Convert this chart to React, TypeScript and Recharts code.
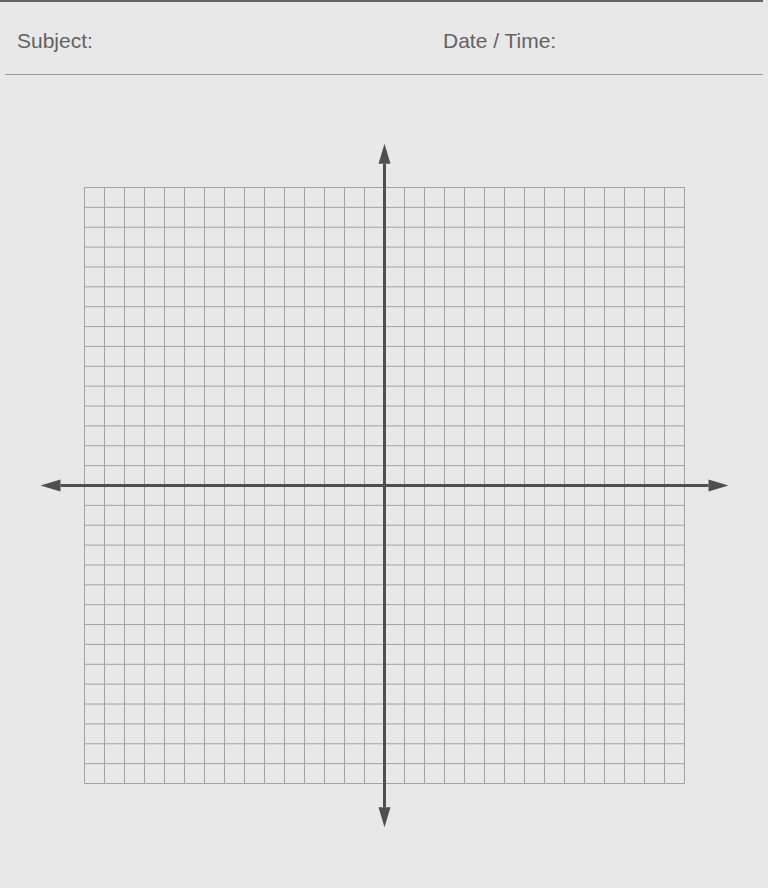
import React from 'react';
import { ScatterChart, Scatter, XAxis, YAxis, ReferenceLine } from 'recharts';

// header labels
const headerLabels = ['Subject:', 'Date / Time:'];

// grid goes from -15 to 15 on both axes, one line per unit
const xTicks = [-15, -14, -13, -12, -11, -10, -9, -8, -7, -6, -5, -4, -3, -2, -1, 0, 1, 2, 3, 4, 5, 6, 7, 8, 9, 10, 11, 12, 13, 14, 15];
const yTicks = [-15, -14, -13, -12, -11, -10, -9, -8, -7, -6, -5, -4, -3, -2, -1, 0, 1, 2, 3, 4, 5, 6, 7, 8, 9, 10, 11, 12, 13, 14, 15];

// how far the axis arrows reach, in grid units
const arrowReach = 17.2;

const points: { x: number; y: number }[] = [];

const AXIS_COLOR = '#4f4f4f';
const GRID_COLOR = '#a2a2a2';

// line with an arrowhead on both ends
const ArrowLine = (props: any) => {
  const { x1, y1, x2, y2 } = props;
  const len = 20;
  const half = 6;
  const dx = x2 - x1;
  const dy = y2 - y1;
  const d = Math.sqrt(dx * dx + dy * dy) || 1;
  const ux = dx / d;
  const uy = dy / d;
  const px = -uy;
  const py = ux;
  const b1x = x1 + ux * len;
  const b1y = y1 + uy * len;
  const b2x = x2 - ux * len;
  const b2y = y2 - uy * len;
  return (
    <g>
      <line x1={b1x} y1={b1y} x2={b2x} y2={b2y} stroke={AXIS_COLOR} strokeWidth={3} />
      <polygon
        points={`${x1},${y1} ${b1x + px * half},${b1y + py * half} ${b1x - px * half},${b1y - py * half}`}
        fill={AXIS_COLOR}
      />
      <polygon
        points={`${x2},${y2} ${b2x + px * half},${b2y + py * half} ${b2x - px * half},${b2y - py * half}`}
        fill={AXIS_COLOR}
      />
    </g>
  );
};

const labelStyle: React.CSSProperties = {
  position: 'absolute',
  top: 30,
  fontFamily: '"Liberation Sans", Arial, sans-serif',
  fontSize: 21,
  lineHeight: '21px',
  color: '#636363',
};

export default function App() {
  return (
    <div style={{ position: 'absolute', left: 0, top: 0, width: 768, height: 888, background: '#e8e8e8', overflow: 'hidden' }}>
      <div style={{ position: 'absolute', left: 0, top: 0, width: 763, height: 2, background: '#666666' }} />
      <div style={{ ...labelStyle, left: 17 }}>{headerLabels[0]}</div>
      <div style={{ ...labelStyle, left: 443 }}>{headerLabels[1]}</div>
      <div style={{ position: 'absolute', left: 5, top: 74, width: 758, height: 1, background: '#9a9a9a' }} />

      <div style={{ position: 'absolute', left: 0, top: 0 }}>
        <ScatterChart width={768} height={888} margin={{ top: 187.5, right: 83.5, bottom: 104.5, left: 84.5 }}>
          <XAxis
            type="number"
            dataKey="x"
            domain={[-15, 15]}
            ticks={xTicks}
            interval={0}
            tick={false}
            tickLine={false}
            axisLine={false}
            height={0}
            allowDataOverflow
          />
          <YAxis
            type="number"
            dataKey="y"
            domain={[-15, 15]}
            ticks={yTicks}
            interval={0}
            tick={false}
            tickLine={false}
            axisLine={false}
            width={0}
            allowDataOverflow
          />
          {/* graph paper lines */}
          {xTicks.map((v) => (
            <ReferenceLine key={`gx${v}`} x={v} stroke={GRID_COLOR} strokeWidth={1} ifOverflow="visible" />
          ))}
          {yTicks.map((v) => (
            <ReferenceLine key={`gy${v}`} y={v} stroke={GRID_COLOR} strokeWidth={1} ifOverflow="visible" />
          ))}
          <Scatter data={points} isAnimationActive={false} />
          <ReferenceLine
            segment={[{ x: -arrowReach, y: 0 }, { x: arrowReach, y: 0 }]}
            ifOverflow="visible"
            shape={ArrowLine}
          />
          <ReferenceLine
            segment={[{ x: 0, y: arrowReach }, { x: 0, y: -arrowReach }]}
            ifOverflow="visible"
            shape={ArrowLine}
          />
        </ScatterChart>
      </div>
    </div>
  );
}
